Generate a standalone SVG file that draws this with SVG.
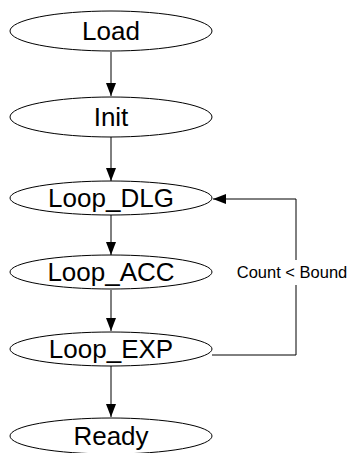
<svg xmlns="http://www.w3.org/2000/svg" width="355" height="453" viewBox="0 0 355 453">
  <style>
    .node ellipse { fill: #ffffff; stroke: #000000; stroke-width: 1; }
    .node text { font-family: "Liberation Sans", Arial, sans-serif; font-size: 26px; fill: #000000; text-anchor: middle; dominant-baseline: central; }
    .edge { fill: none; stroke: #000000; stroke-width: 1; }
    .label { font-family: "Liberation Sans", Arial, sans-serif; font-size: 16.5px; fill: #000000; text-anchor: middle; dominant-baseline: central; }
  </style>
  <defs>
    <marker id="arrow" viewBox="0 0 13 10" refX="13" refY="5" markerWidth="13" markerHeight="10" markerUnits="userSpaceOnUse" orient="auto">
      <path d="M0,0 L13,5 L0,10 Z" fill="#000000"/>
    </marker>
  </defs>
  <rect width="355" height="453" fill="#ffffff"/>

  <g id="connectors">
    <line class="edge" x1="111" y1="52" x2="111" y2="96" marker-end="url(#arrow)"/>
    <line class="edge" x1="111" y1="137" x2="111" y2="181" marker-end="url(#arrow)"/>
    <line class="edge" x1="111" y1="215" x2="111" y2="255" marker-end="url(#arrow)"/>
    <line class="edge" x1="111" y1="290" x2="111" y2="331" marker-end="url(#arrow)"/>
    <line class="edge" x1="111" y1="366" x2="111" y2="417" marker-end="url(#arrow)"/>
    <polyline class="edge" points="212,355 296,355 296,285"/>
    <polyline class="edge" points="296,260 296,199 213,199" marker-end="url(#arrow)"/>
    <text class="label" x="292" y="272">Count &lt; Bound</text>
  </g>

  <g id="load" class="node">
    <ellipse cx="111" cy="31" rx="101" ry="20"/>
    <text x="111" y="31">Load</text>
  </g>
  <g id="init" class="node">
    <ellipse cx="111" cy="117" rx="101" ry="20"/>
    <text x="111" y="117">Init</text>
  </g>
  <g id="loop_dlg" class="node">
    <ellipse cx="111" cy="198" rx="101" ry="17"/>
    <text x="111" y="198">Loop_DLG</text>
  </g>
  <g id="loop_acc" class="node">
    <ellipse cx="111" cy="272" rx="101" ry="17"/>
    <text x="111" y="272">Loop_ACC</text>
  </g>
  <g id="loop_exp" class="node">
    <ellipse cx="111" cy="349" rx="101" ry="17"/>
    <text x="111" y="349">Loop_EXP</text>
  </g>
  <g id="ready" class="node">
    <ellipse cx="111" cy="436" rx="101" ry="18"/>
    <text x="111" y="436">Ready</text>
  </g>
</svg>
